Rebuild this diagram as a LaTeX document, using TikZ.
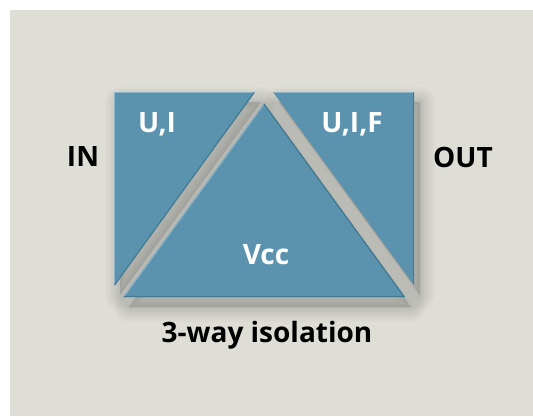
\documentclass[tikz,border=0pt]{standalone}
\usepackage{fontspec}
\setmainfont{Open Sans}
\usetikzlibrary{positioning}
\definecolor{panel}{HTML}{DEDED6}
\definecolor{steel}{HTML}{5B93AE}
\definecolor{steellight}{HTML}{8DB4C8}
\definecolor{steeldark}{HTML}{44788F}
\tikzset{
	piece/.style={fill=steel},
	shade/.style={fill=black!60, draw=black!60, opacity=0.03, line join=round, shift={(6,10)}},
	hilite/.style={draw=steellight, line width=1.2pt},
	lowlite/.style={draw=steeldark, line width=1.2pt},
	label/.style={text=white, font=\fontsize{28}{30}\selectfont\bfseries, inner sep=0pt},
	side/.style={text=black, font=\fontsize{28}{30}\selectfont\bfseries, inner sep=0pt},
}

\begin{document}
\begin{tikzpicture}[x=1pt, y=-1pt]
	\useasboundingbox (0,0) rectangle (533,416);
	\fill[panel] (10,10) rectangle (533,416);
	
	% soft shadows under the three parts
	\foreach \w in {30,26,22,18,14,10,7,4,1}{
		\filldraw[shade, line width=\w pt] (114,92) -- (255,92) -- (114,285) -- cycle;
		\filldraw[shade, line width=\w pt] (273,92) -- (414,92) -- (414,285) -- cycle;
		\filldraw[shade, line width=\w pt] (264,103) -- (405,297) -- (123,297) -- cycle;
	}
	
	% the three parts
	\fill[piece] (114,92) -- (255,92) -- (114,285) -- cycle;
	\fill[piece] (273,92) -- (414,92) -- (414,285) -- cycle;
	\fill[piece] (264,103) -- (405,297) -- (123,297) -- cycle;
	
	% bevel edges
	\draw[hilite] (114.6,285) -- (114.6,92.6) -- (254,92.6);
	\draw[lowlite] (254,92.6) -- (114.6,285);
	\draw[hilite] (274,92.6) -- (413.4,92.6);
	\draw[lowlite] (413.4,92.6) -- (413.4,284);
	\draw[hilite] (124,296.4) -- (264,104);
	\draw[lowlite] (264,104) -- (404,296.4) -- (124,296.4);
	
	% texts
	\node (ui) [label] at (157,124) {U,I};
	\node (uif) [label] at (352,124) {U,I,F};
	\node (vcc) [label] at (266,255) {Vcc};
	\node (in) [side] at (83,157) {IN};
	\node (out) [side] at (463,157) {OUT};
	\node (iso) [side] at (267,335) {3-way isolation};
\end{tikzpicture}
\end{document}
